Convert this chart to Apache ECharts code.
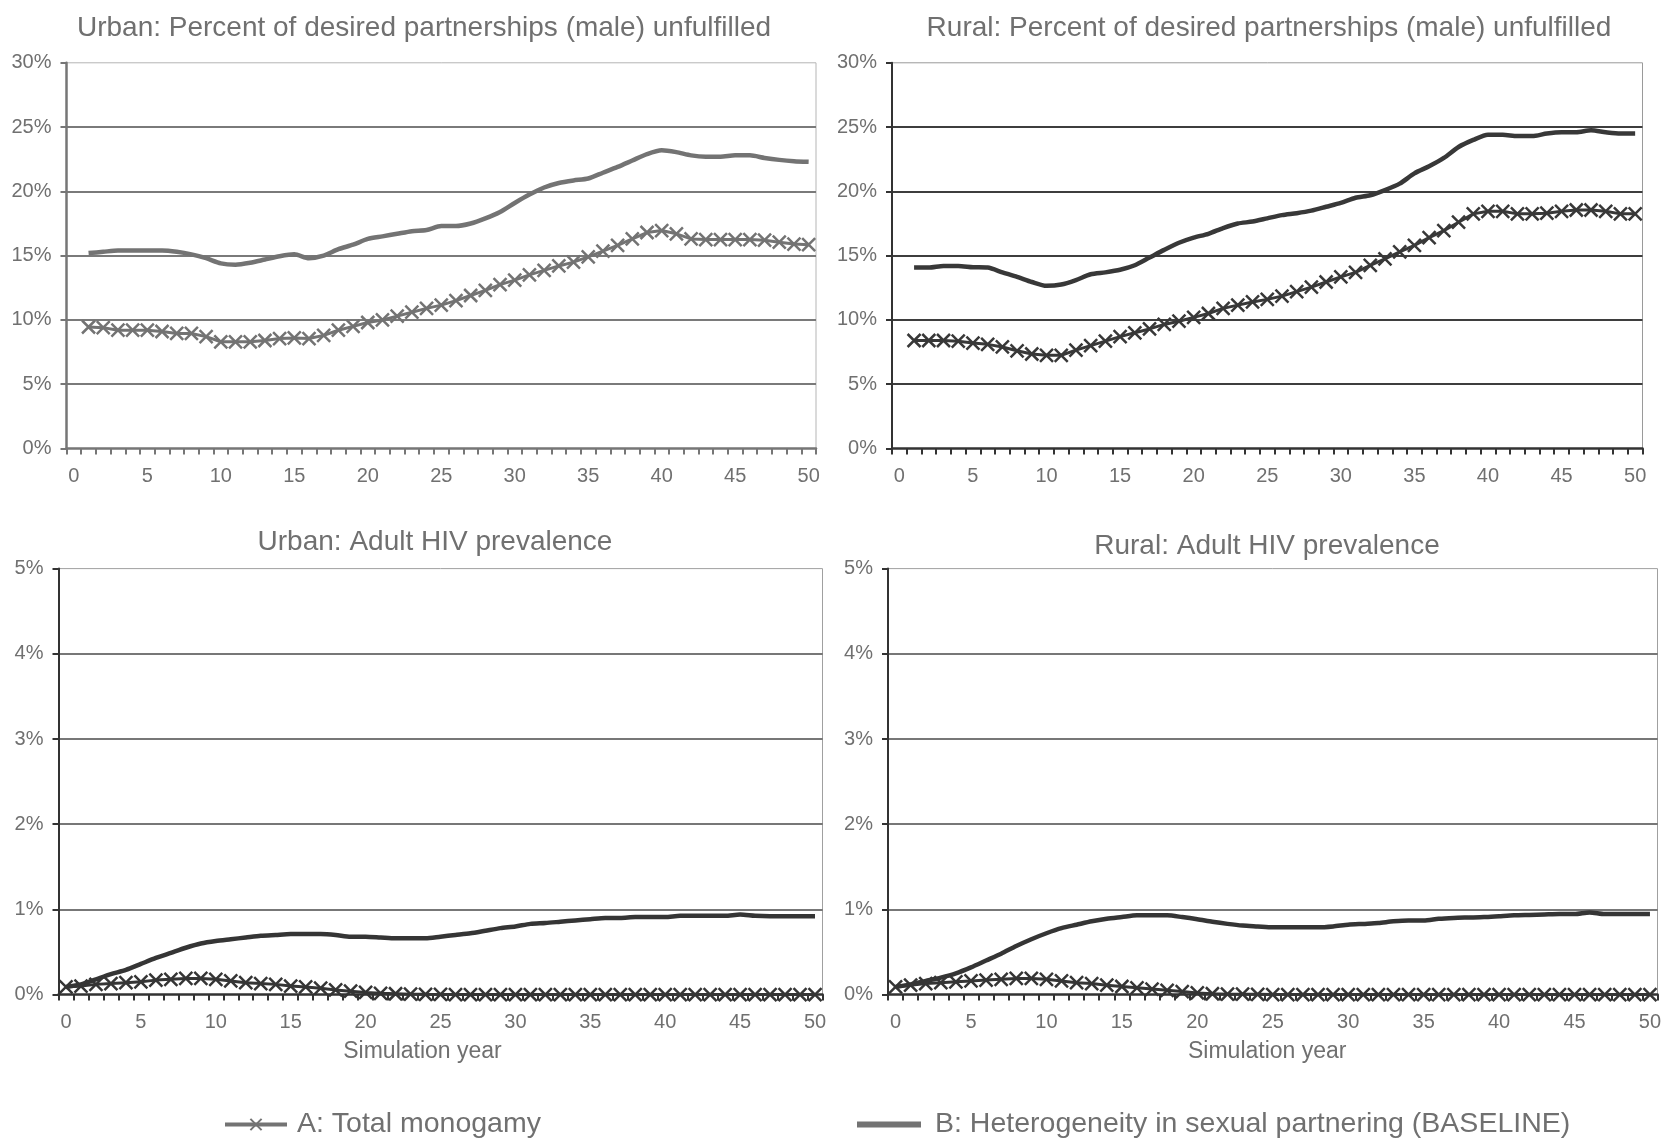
<!DOCTYPE html>
<html>
<head>
<meta charset="utf-8">
<script src="https://cdn.jsdelivr.net/npm/echarts@6/dist/echarts.min.js"></script>
<style>
  html, body { margin: 0; padding: 0; background: #ffffff; }
  #chart { width: 1664px; height: 1142px; }
</style>
</head>
<body>
<div id="chart"></div>
<script>
// Simulation years (category axis, 0..50)
const years = ['0','1','2','3','4','5','6','7','8','9','10','11','12','13','14','15','16','17','18','19','20',
  '21','22','23','24','25','26','27','28','29','30','31','32','33','34','35','36','37','38','39','40',
  '41','42','43','44','45','46','47','48','49','50'];

const nameA = 'A: Total monogamy';
const nameB = 'B: Heterogeneity in sexual partnering (BASELINE)';

// Percent of desired partnerships (male) unfulfilled, years 1..50
const urbanUnfulfilledA = [9.45,9.4,9.2,9.2,9.2,9.1,8.95,8.95,8.7,8.3, 8.3,8.3,8.4,8.55,8.6,8.55,8.8,9.2,9.5,9.8,
  10.0,10.3,10.6,10.9,11.15,11.5,11.9,12.3,12.75,13.1, 13.5,13.85,14.2,14.5,14.9,15.35,15.8,16.3,16.8,16.95,
  16.7,16.3,16.25,16.25,16.25,16.25,16.2,16.05,15.9,15.85];
const urbanUnfulfilledB = [15.2,15.3,15.4,15.4,15.4,15.4,15.3,15.1,14.8,14.4, 14.3,14.45,14.7,14.95,15.1,14.8,15.0,15.5,15.85,16.3,
  16.5,16.7,16.9,17.0,17.3,17.3,17.5,17.9,18.4,19.1, 19.75,20.3,20.65,20.85,21.0,21.45,21.9,22.4,22.9,23.2,
  23.05,22.8,22.7,22.7,22.8,22.8,22.6,22.45,22.35,22.3];
const ruralUnfulfilledA = [8.4,8.4,8.4,8.35,8.2,8.1,7.9,7.6,7.35,7.25, 7.25,7.65,8.0,8.35,8.7,9.0,9.3,9.65,9.9,10.2,
  10.5,10.9,11.15,11.4,11.6,11.85,12.2,12.55,12.95,13.35, 13.7,14.25,14.75,15.3,15.8,16.4,16.95,17.6,18.25,18.45,
  18.45,18.25,18.25,18.3,18.45,18.55,18.55,18.45,18.25,18.25];
const ruralUnfulfilledB = [14.07,14.07,14.2,14.2,14.1,14.07,13.7,13.35,12.95,12.65, 12.75,13.1,13.55,13.7,13.9,14.25,14.85,15.45,16.0,16.4,
  16.7,17.15,17.5,17.65,17.9,18.15,18.3,18.5,18.8,19.1, 19.5,19.7,20.1,20.6,21.4,21.95,22.6,23.45,24.0,24.4,
  24.4,24.3,24.3,24.5,24.6,24.6,24.75,24.6,24.5,24.5];

// Adult HIV prevalence (%), years 0..50
const urbanPrevA = [0.09,0.1,0.12,0.13,0.14,0.15,0.17,0.18,0.19,0.19, 0.18,0.16,0.14,0.13,0.12,0.1,0.09,0.075,0.055,0.04,
  0.025,0.015,0.01,0.005,0.003,0.002,0,0,0,0, 0,0,0,0,0,0,0,0,0,0, 0,0,0,0,0,0,0,0,0,0,0];
const urbanPrevB = [0.09,0.12,0.18,0.24,0.29,0.36,0.43,0.49,0.55,0.6, 0.63,0.65,0.67,0.69,0.7,0.71,0.71,0.71,0.7,0.68,
  0.68,0.67,0.66,0.66,0.66,0.68,0.7,0.72,0.75,0.78, 0.8,0.83,0.84,0.855,0.87,0.885,0.9,0.9,0.91,0.91,
  0.91,0.925,0.925,0.925,0.925,0.94,0.925,0.92,0.92,0.92,0.92];
const ruralPrevA = [0.09,0.11,0.13,0.14,0.15,0.16,0.17,0.18,0.19,0.19, 0.18,0.16,0.14,0.13,0.11,0.095,0.08,0.065,0.05,0.035,
  0.02,0.01,0.005,0.005,0.003,0,0,0,0,0, 0,0,0,0,0,0,0,0,0,0, 0,0,0,0,0,0,0,0,0,0,0];
const ruralPrevB = [0.09,0.12,0.16,0.2,0.25,0.32,0.4,0.48,0.57,0.65, 0.72,0.78,0.82,0.86,0.89,0.91,0.93,0.93,0.93,0.91,
  0.885,0.855,0.83,0.81,0.8,0.79,0.79,0.79,0.79,0.8, 0.82,0.83,0.84,0.86,0.87,0.87,0.89,0.9,0.905,0.91,
  0.92,0.93,0.935,0.94,0.945,0.945,0.965,0.945,0.945,0.945,0.945];

const panelTitles = [
  'Urban: Percent of desired partnerships (male) unfulfilled',
  'Rural: Percent of desired partnerships (male) unfulfilled',
  'Urban: Adult HIV prevalence',
  'Rural: Adult HIV prevalence'
];
const xAxisName = 'Simulation year';

// pair category names with values so a series may start at any year
const pairs = (cats, vals) => vals.map((v, i) => [cats[i], v]);

const FONT = '"Liberation Sans", Arial, Helvetica, sans-serif';
const TEXT = '#707070';
const CROSS = 'path://M0,0L10,10M10,0L0,10';

const panels = [
  { grid: { left: 66.5, top: 62.8, width: 749.5, height: 385.7 }, max: 30, step: 5,
    axis: '#767676', split: '#7a7a7a', line: '#737373', gridBorder: '#b5b5b5',
    a: pairs(years.slice(1), urbanUnfulfilledA), b: pairs(years.slice(1), urbanUnfulfilledB), name: false, namePad: 0 },
  { grid: { left: 892, top: 62.8, width: 750.5, height: 385.7 }, max: 30, step: 5,
    axis: '#333333', split: '#3e3e3e', line: '#383838', gridBorder: '#9a9a9a',
    a: pairs(years.slice(1), ruralUnfulfilledA), b: pairs(years.slice(1), ruralUnfulfilledB), name: false, namePad: 0 },
  { grid: { left: 58.5, top: 568.6, width: 764, height: 426 }, max: 5, step: 1,
    axis: '#333333', split: '#4a4a4a', line: '#353535', gridBorder: '#a0a0a0',
    a: pairs(years, urbanPrevA), b: pairs(years, urbanPrevB), name: true, namePad: 36 },
  { grid: { left: 888, top: 568.6, width: 769.5, height: 426 }, max: 5, step: 1,
    axis: '#333333', split: '#4a4a4a', line: '#353535', gridBorder: '#a0a0a0',
    a: pairs(years, ruralPrevA), b: pairs(years, ruralPrevB), name: true, namePad: 11 }
];

const titlePos = [
  { x: 424, y: 14 }, { x: 1269, y: 14 }, { x: 435, y: 528 }, { x: 1267, y: 532 }
];

const option = {
  animation: false,
  backgroundColor: '#ffffff',
  textStyle: { fontFamily: FONT },
  title: panelTitles.map((t, i) => ({
    text: t, left: titlePos[i].x - 5, top: titlePos[i].y - 5, textAlign: 'center',
    textStyle: { fontFamily: FONT, fontSize: 28, fontWeight: 'normal', color: TEXT }
  })),
  legend: [
    { data: [nameA], left: 223, top: 1110, padding: 0, itemWidth: 62, itemHeight: 14,
      lineStyle: { width: 4 },
      textStyle: { fontFamily: FONT, fontSize: 28.5, color: TEXT, padding: [0, 0, 0, 5] } },
    { data: [{ name: nameB, icon: 'rect' }], left: 857, top: 1110, padding: 0, itemWidth: 64, itemHeight: 6,
      textStyle: { fontFamily: FONT, fontSize: 28.5, color: TEXT, padding: [0, 0, 0, 9] } }
  ],
  grid: panels.map(p => Object.assign({ show: true, borderColor: p.gridBorder, borderWidth: 1,
    outerBoundsMode: 'none', containLabel: false }, p.grid)),
  xAxis: panels.map((p, i) => ({
    type: 'category', gridIndex: i, data: years, boundaryGap: true,
    axisLine: { show: true, lineStyle: { color: p.axis, width: 2.5 } },
    axisTick: { show: true, interval: 0, length: 6, inside: false, lineStyle: { color: p.axis, width: 2 } },
    axisLabel: { interval: 4, margin: 18, fontSize: 20, color: TEXT, fontFamily: FONT },
    splitLine: { show: false },
    name: p.name ? xAxisName : '', nameLocation: 'middle', nameGap: 46,
    nameTextStyle: { fontSize: 23, color: TEXT, fontFamily: FONT, padding: [0, p.namePad, 0, 0] }
  })),
  yAxis: panels.map((p, i) => ({
    type: 'value', gridIndex: i, min: 0, max: p.max, interval: p.step,
    axisLine: { show: true, lineStyle: { color: p.axis, width: i === 0 ? 2.5 : 2 } },
    axisTick: { show: true, length: 6, inside: false, lineStyle: { color: p.axis, width: 2 } },
    axisLabel: { formatter: '{value}%', margin: 15, fontSize: 20, color: TEXT, fontFamily: FONT },
    splitLine: { show: true, showMaxLine: false, showMinLine: false,
      lineStyle: { color: p.split, width: i < 2 ? 2 : 1.6 } }
  })),
  series: []
};

panels.forEach((p, i) => {
  option.series.push({
    name: nameA, type: 'line', xAxisIndex: i, yAxisIndex: i, data: p.a,
    symbol: CROSS, symbolSize: 13, showSymbol: true, showAllSymbol: true,
    itemStyle: { color: p.line, borderColor: p.line, borderWidth: 2.5 },
    lineStyle: { color: p.line, width: 3 }, z: 3
  });
  option.series.push({
    name: nameB, type: 'line', xAxisIndex: i, yAxisIndex: i, data: p.b,
    symbol: 'none', showSymbol: false, smooth: 0.25,
    itemStyle: { color: p.line },
    lineStyle: { color: p.line, width: 4.5 }, z: 2
  });
});

const chart = echarts.init(document.getElementById('chart'), null, { renderer: 'canvas' });
chart.setOption(option);
</script>
</body>
</html>
